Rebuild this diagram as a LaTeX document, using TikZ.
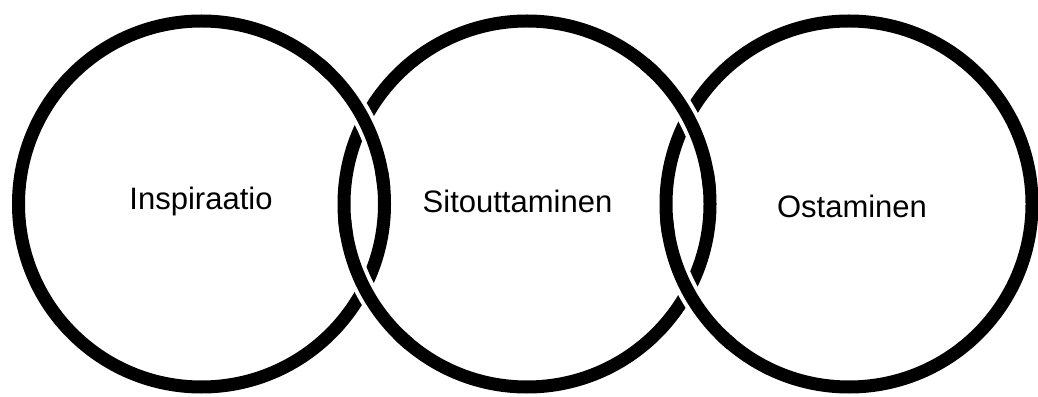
\documentclass[tikz,border=0pt]{standalone}
\usepackage{fontspec}
\setmainfont{Liberation Sans}
\begin{document}
\begin{tikzpicture}[x=1pt,y=1pt,
  ring/.style={draw=black,line width=13pt},
  halo/.style={draw=white,line width=21pt},
  label/.style={anchor=base,font=\fontsize{31}{37}\selectfont,inner sep=0pt}]
\useasboundingbox (0,0) rectangle (1038,396);
\coordinate (c1) at (201.5,192);
\coordinate (c2) at (527,192);
\coordinate (c3) at (849,192);
\draw[ring] (c1) circle[radius=183];
\draw[ring] (c2) circle[radius=183];
\draw[ring] (c3) circle[radius=183];
% over-crossings
\draw[halo] ([shift={(10:183)}]c1) arc[start angle=10,end angle=45,radius=183];
\draw[ring] ([shift={(5:183)}]c1) arc[start angle=5,end angle=50,radius=183];
\draw[halo] ([shift={(190:183)}]c2) arc[start angle=190,end angle=225,radius=183];
\draw[ring] ([shift={(185:183)}]c2) arc[start angle=185,end angle=230,radius=183];
\draw[halo] ([shift={(10:183)}]c2) arc[start angle=10,end angle=45,radius=183];
\draw[ring] ([shift={(5:183)}]c2) arc[start angle=5,end angle=50,radius=183];
\draw[halo] ([shift={(190:183)}]c3) arc[start angle=190,end angle=225,radius=183];
\draw[ring] ([shift={(185:183)}]c3) arc[start angle=185,end angle=230,radius=183];
\node[label] (t1) at (201,186) {Inspiraatio};
\node[label] (t2) at (517.5,183) {Sitouttaminen};
\node[label] (t3) at (852,178) {Ostaminen};
\end{tikzpicture}
\end{document}
